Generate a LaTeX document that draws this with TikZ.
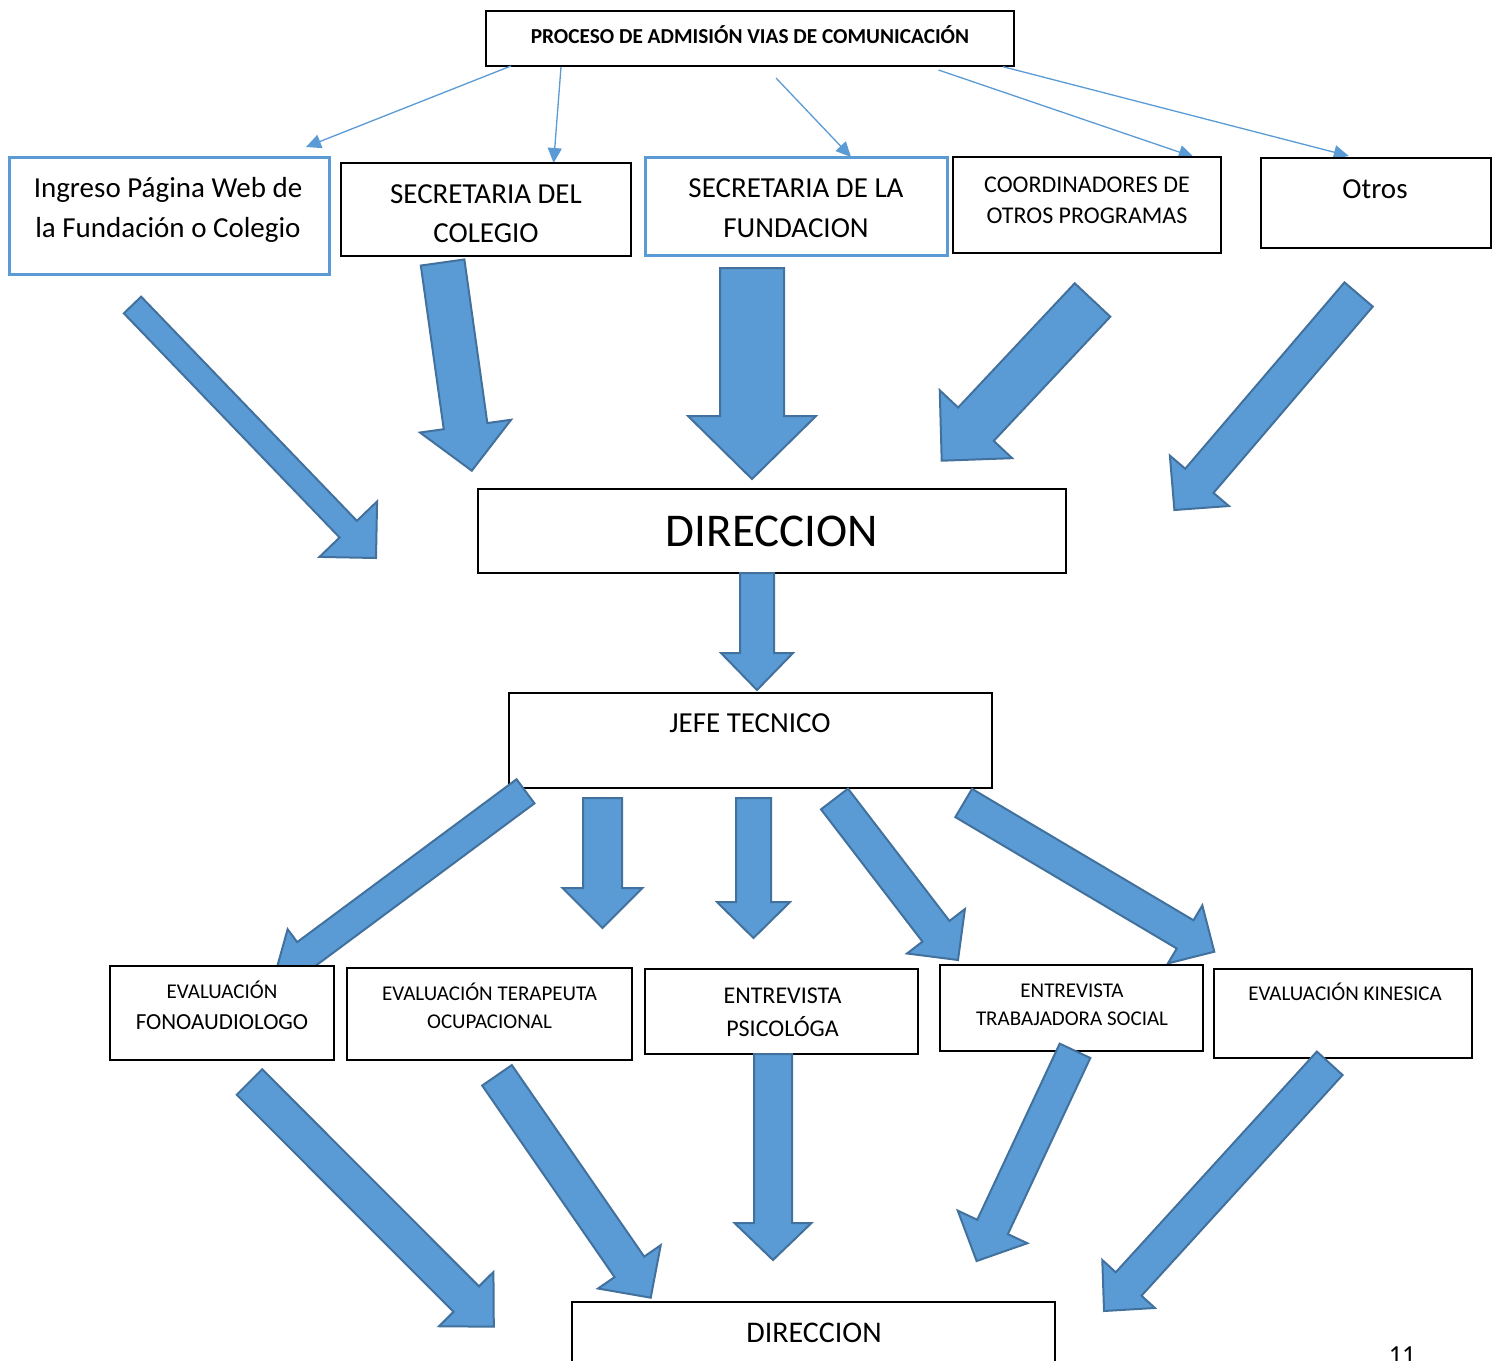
\documentclass[tikz,border=0pt]{standalone}
\usepackage{fontspec}
\setmainfont{Carlito}
\usetikzlibrary{arrows.meta,calc}
\definecolor{bfill}{HTML}{5B9BD5}
\definecolor{bline}{HTML}{41719C}
\tikzset{
  boxk/.style={draw=black, line width=2pt, fill=white, inner sep=0pt, outer sep=0pt, anchor=north west},
  boxb/.style={draw=bfill, line width=3pt, fill=white, inner sep=0pt, outer sep=0pt, anchor=north west},
  thinarr/.style={draw=bfill, line width=1.3pt, -{Triangle[length=15pt,width=14pt]}},
  barrowstyle/.style={fill=bfill, draw=bline, line width=2pt, line join=miter},
}
% box: style, name, x1, y1, x2, y2
\newcommand\mybox[6]{\node[#1, minimum width={#5pt-#3pt}, minimum height={#6pt-#4pt}] (#2) at (#3,#4) {};}
% text line: name, x, baseline y, size, text
\newcommand\txtline[5]{\node[anchor=base, inner sep=0pt, font=\fontsize{#4}{#4}\selectfont] (#1) at (#2,#3) {#5};}
% block arrow: tail coord, tip coord, shaft half width, head half width, head length
\newcommand\blockarr[5]{%
  \path let \p1=(#1), \p2=(#2), \n1={atan2(\y2-\y1,\x2-\x1)}, \n2={veclen(\x2-\x1,\y2-\y1)} in
    \pgfextra{\xdef\bang{\n1}\xdef\blen{\n2}};
  \filldraw[barrowstyle, shift={(#1)}, rotate=\bang]
    (0,#3) -- ({\blen-#5},#3) -- ({\blen-#5},#4) -- (\blen,0) -- ({\blen-#5},-#4) -- ({\blen-#5},-#3) -- (0,-#3) -- cycle;
}
\begin{document}
\begin{tikzpicture}[x=1pt,y=-1pt]
\useasboundingbox (0,0) rectangle (1498,1360);
\fill[white] (0,0) rectangle (1498,1360);
\clip (0,0) rectangle (1498,1360);

% ---------- top box ----------
\mybox{boxk, line width=2.8pt}{proceso}{486}{11}{1014}{66}
\txtline{proceso-t}{750}{43}{21.3}{\bfseries PROCESO DE ADMISIÓN VIAS DE COMUNICACIÓN}

% ---------- thin connectors ----------
\coordinate (p1) at (511,66);   \coordinate (q1) at (306,147);
\coordinate (p2) at (561,67);   \coordinate (q2) at (553.6,163);
\coordinate (p3) at (776,78);   \coordinate (q3) at (851,157);
\coordinate (p4) at (938.5,70); \coordinate (q4) at (1193.7,157);
\coordinate (p5) at (1003,66.7);\coordinate (q5) at (1348.8,156);
\draw[thinarr] (p1) -- (q1);
\draw[thinarr] (p2) -- (q2);
\draw[thinarr] (p3) -- (q3);
\draw[thinarr] (p4) -- (q4);
\draw[thinarr] (p5) -- (q5);

% ---------- row 1 boxes ----------
\mybox{boxb}{ingreso}{9}{157}{329}{274}
\mybox{boxk}{colegio}{341}{163}{631}{256}
\mybox{boxb}{fundacion}{645}{157}{947}{255}
\mybox{boxk}{coord}{953}{157}{1221}{253}
\mybox{boxk, line width=1.5pt}{otros}{1261}{158}{1491}{248}

\txtline{ing1}{168}{197}{29}{Ingreso Página Web de}
\txtline{ing2}{168}{237}{29}{la Fundación o Colegio}
\txtline{col1}{486}{203}{29}{SECRETARIA DEL}
\txtline{col2}{486}{242}{29}{COLEGIO}
\txtline{fun1}{796}{197}{29}{SECRETARIA DE LA}
\txtline{fun2}{796}{237}{29}{FUNDACION}
\txtline{coo1}{1087}{192}{24}{COORDINADORES DE}
\txtline{coo2}{1087}{223}{24}{OTROS PROGRAMAS}
\txtline{otr1}{1375}{198}{29}{Otros}

% ---------- DIRECCION ----------
\mybox{boxk}{dir1}{478}{489}{1066}{573}
\txtline{dir1-t}{772}{546}{47}{DIRECCION}

% ---------- JEFE TECNICO ----------
\mybox{boxk, line width=1.2pt}{jefe}{509}{693}{992}{788}
\txtline{jefe-t}{750}{732}{29}{JEFE TECNICO}

% ---------- block arrows to DIRECCION ----------
\coordinate (a1s) at (132.5,305);   \coordinate (a1e) at (376,558);
\coordinate (a2s) at (442.6,262.5); \coordinate (a2e) at (471.8,470.7);
\coordinate (a3s) at (752,268);     \coordinate (a3e) at (752,479);
\coordinate (a4s) at (1092.5,300);  \coordinate (a4e) at (941.7,460.7);
\coordinate (a5s) at (1358.6,294.5);\coordinate (a5e) at (1174.4,510);
\blockarr{a1s}{a1e}{12}{40}{40}
\blockarr{a2s}{a2e}{22}{46}{45}
\blockarr{a3s}{a3e}{32}{64}{63}
\blockarr{a4s}{a4e}{24.4}{49.6}{50}
\blockarr{a5s}{a5e}{18.6}{38.8}{38.4}

% DIRECCION -> JEFE
\coordinate (a6s) at (757,573); \coordinate (a6e) at (757,690);
\blockarr{a6s}{a6e}{17}{36}{37}

% ---------- JEFE -> evaluations ----------
\coordinate (b1s) at (525.5,791.3); \coordinate (b1e) at (274,978);
\coordinate (b2s) at (602.5,798);   \coordinate (b2e) at (602.5,928);
\coordinate (b3s) at (753.5,798);   \coordinate (b3e) at (753.5,938);
\coordinate (b4s) at (834.5,799);   \coordinate (b4e) at (958,960);
\coordinate (b5s) at (963.7,803);   \coordinate (b5e) at (1214.3,951.7);
\blockarr{b1s}{b1e}{15}{31}{40}
\blockarr{b2s}{b2e}{19.5}{40}{40}
\blockarr{b3s}{b3e}{17.5}{36.5}{36}
\blockarr{b4s}{b4e}{17}{36.5}{36.2}
\blockarr{b5s}{b5e}{16.4}{33.7}{33.9}

% ---------- evaluation boxes ----------
\mybox{boxk}{fono}{110}{966}{334}{1060}
\mybox{boxk}{tera}{347}{968}{632}{1060}
\mybox{boxk}{psico}{645}{969}{918}{1054}
\mybox{boxk}{trab}{940}{965}{1203}{1051}
\mybox{boxk}{kine}{1214}{969}{1472}{1058}

\txtline{fon1}{222}{998}{21}{EVALUACIÓN}
\txtline{fon2}{222}{1029}{23}{FONOAUDIOLOGO}
\txtline{ter1}{489.5}{1000}{21}{EVALUACIÓN TERAPEUTA}
\txtline{ter2}{489.5}{1028}{21}{OCUPACIONAL}
\txtline{psi1}{782.5}{1003.5}{24}{ENTREVISTA}
\txtline{psi2}{782.5}{1036}{24}{PSICOLÓGA}
\txtline{tra1}{1072}{997}{21}{ENTREVISTA}
\txtline{tra2}{1072}{1025.5}{21}{TRABAJADORA SOCIAL}
\txtline{kin1}{1345}{1000.5}{21}{EVALUACIÓN KINESICA}

% ---------- evaluations -> DIRECCION ----------
\coordinate (c1s) at (249.5,1082);   \coordinate (c1e) at (493.8,1326.7);
\coordinate (c2s) at (497,1075.3);   \coordinate (c2e) at (650.7,1297.7);
\coordinate (c3s) at (773,1054);     \coordinate (c3e) at (773,1260);
\coordinate (c4s) at (1075,1050.8);  \coordinate (c4e) at (976.6,1261);
\coordinate (c5s) at (1329.7,1063.3);\coordinate (c5e) at (1104,1311);
\blockarr{c1s}{c1e}{18}{38.4}{39}
\blockarr{c2s}{c2e}{18}{38.1}{37.5}
\blockarr{c3s}{c3e}{19}{38.5}{37}
\blockarr{c4s}{c4e}{16.9}{38.4}{37.6}
\blockarr{c5s}{c5e}{17.4}{35.6}{36.5}

% ---------- bottom DIRECCION ----------
\mybox{boxk, line width=1.5pt}{dir2}{572}{1302}{1055}{1400}
\txtline{dir2-t}{814}{1342.5}{30}{DIRECCION}

% page number
\txtline{pagenum}{1402}{1363}{26}{11}
\end{tikzpicture}
\end{document}
